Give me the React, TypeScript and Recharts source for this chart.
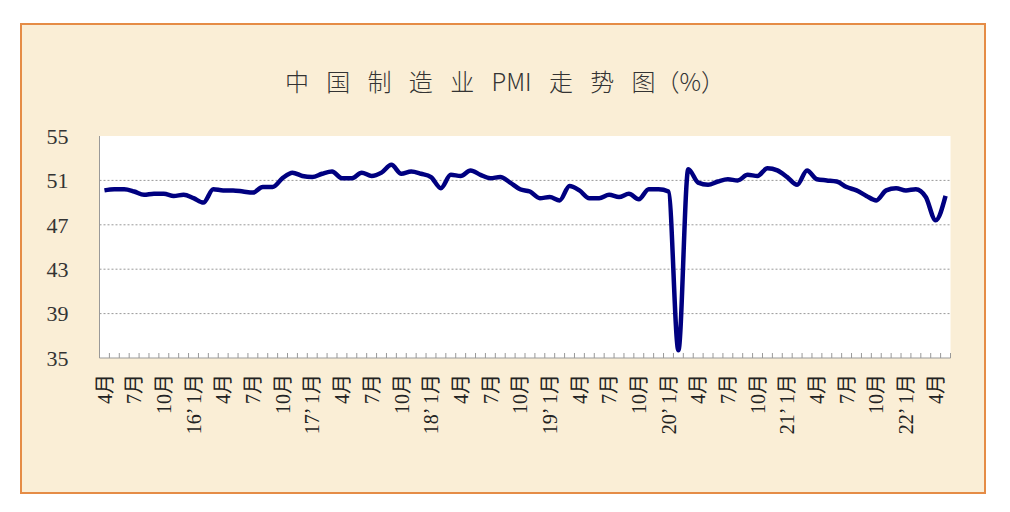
import { LineChart, Line, XAxis, YAxis, CartesianGrid } from 'recharts';

// monthly PMI, Apr 2015 .. May 2022
const pmi = [
  50.1, 50.2, 50.2, 50.0, 49.7, 49.8, 49.8, 49.6, 49.7,
  49.4, 49.0, 50.2, 50.1, 50.1, 50.0, 49.9, 50.4, 50.4, 51.2, 51.7, 51.4,
  51.3, 51.6, 51.8, 51.2, 51.2, 51.7, 51.4, 51.7, 52.4, 51.6, 51.8, 51.6,
  51.3, 50.3, 51.5, 51.4, 51.9, 51.5, 51.2, 51.3, 50.8, 50.2, 50.0, 49.4,
  49.5, 49.2, 50.5, 50.1, 49.4, 49.4, 49.7, 49.5, 49.8, 49.3, 50.2, 50.2,
  50.0, 35.7, 52.0, 50.8, 50.6, 50.9, 51.1, 51.0, 51.5, 51.4, 52.1, 51.9,
  51.3, 50.6, 51.9, 51.1, 51.0, 50.9, 50.4, 50.1, 49.6, 49.2, 50.1, 50.3,
  50.1, 50.2, 49.5, 47.4, 49.6,
];

// one label every 3 months
const tickLabels = [
  '4月', '7月', '10月', '16’ 1月', '4月', '7月', '10月', '17’ 1月',
  '4月', '7月', '10月', '18’ 1月', '4月', '7月', '10月', '19’ 1月',
  '4月', '7月', '10月', '20’ 1月', '4月', '7月', '10月', '21’ 1月',
  '4月', '7月', '10月', '22’ 1月', '4月',
];

const yTicks = [35, 39, 43, 47, 51, 55];
const gridValues = [39, 43, 47, 51];

const data = pmi.map((v, i) => ({ i, pmi: v }));
const labelTicks = tickLabels.map((_, k) => k * 3);
const markTicks = Array.from({ length: pmi.length + 1 }, (_, k) => k - 0.5);
const xDomain = [-0.5, pmi.length - 0.5];

const serif = "'Liberation Serif', 'Noto Sans CJK SC', serif";

const MonthTick = ({ x, y, payload }: any) => {
  const label = tickLabels[Math.round(payload.value / 3)];
  return (
    <g transform={`translate(${x},${y})`}>
      <text
        transform="rotate(-90)"
        x={-16}
        dy="0.36em"
        textAnchor="end"
        fill="#222"
        fontSize={20}
        fontFamily={serif}
      >
        {label}
      </text>
    </g>
  );
};

const NoLabel = () => <g />;

export default function App() {
  return (
    <div style={{ position: 'absolute', left: 0, top: 0, width: 1010, height: 512, background: '#fff' }}>
      <div
        style={{
          position: 'absolute',
          left: 20,
          top: 23,
          width: 962,
          height: 467,
          border: '2px solid #e58c46',
          background: '#faeed6',
        }}
      />
      <div
        style={{
          position: 'absolute',
          left: 0,
          width: 1010,
          top: 63,
          textAlign: 'center',
          fontFamily: "'Noto Sans CJK SC', sans-serif",
          fontWeight: 300,
          fontSize: 24,
          wordSpacing: 12,
          color: '#333',
          whiteSpace: 'pre',
        }}
      >
        中 国 制 造 业 PMI 走 势 图（%）
      </div>
      <LineChart
        width={1010}
        height={512}
        data={data}
        margin={{ top: 136, right: 59.5, bottom: 54, left: 39.5 }}
        style={{ position: 'absolute', left: 0, top: 0 }}
      >
        <CartesianGrid
          vertical={false}
          fill="#fff"
          stroke="#999"
          strokeDasharray="2 2"
          horizontalValues={gridValues}
        />
        <XAxis
          xAxisId="marks"
          type="number"
          dataKey="i"
          domain={xDomain}
          ticks={markTicks}
          interval={0}
          tick={<NoLabel />}
          tickLine={{ stroke: '#999' }}
          tickSize={5}
          mirror
          axisLine={false}
          height={1}
          allowDataOverflow
        />
        <XAxis
          type="number"
          dataKey="i"
          domain={xDomain}
          ticks={labelTicks}
          interval={0}
          tick={<MonthTick />}
          tickLine={false}
          tickSize={0}
          tickMargin={0}
          axisLine={{ stroke: '#999' }}
          height={100}
          allowDataOverflow
        />
        <YAxis
          domain={[35, 55]}
          ticks={yTicks}
          interval={0}
          tickLine={false}
          tickSize={0}
          tickMargin={31}
          axisLine={{ stroke: '#999' }}
          width={60}
          tick={{ fill: '#333', fontSize: 22, fontFamily: serif }}
          allowDataOverflow
        />
        <Line
          dataKey="pmi"
          type="monotone"
          stroke="#000080"
          strokeWidth={4.5}
          dot={false}
          isAnimationActive={false}
        />
      </LineChart>
    </div>
  );
}
